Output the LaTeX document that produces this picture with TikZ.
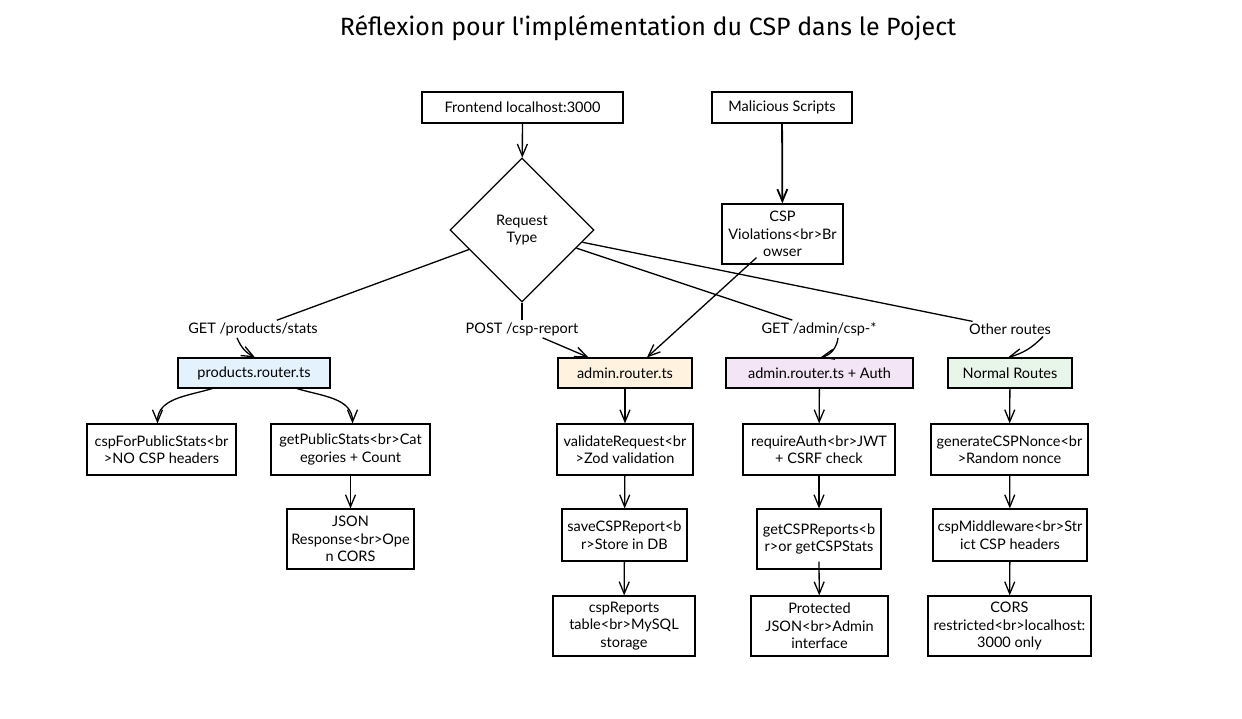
\documentclass[tikz,border=0pt]{standalone}
\usepackage{fontspec}
\setmainfont{Lato}
\newfontfamily\titlefont{Fira Sans}
\usetikzlibrary{arrows.meta}
\usetikzlibrary{shapes.geometric}
\definecolor{prodblue}{HTML}{E3F2FD}
\definecolor{admorange}{HTML}{FFF3E0}
\definecolor{authpurple}{HTML}{F3E5F5}
\definecolor{normgreen}{HTML}{E8F5E9}

\begin{document}
\begin{tikzpicture}[x=1pt, y=1pt,
  box/.style={draw, line width=1.2pt, inner sep=0, align=center, font=\fontsize{14.5}{17.5}\selectfont},
  lbl/.style={inner sep=2pt, font=\fontsize{14.5}{17.5}\selectfont},
  link/.style={line width=1.3pt},
  >={Straight Barb[length=12pt,width=10pt]}]
\useasboundingbox (0,0) rectangle (1242,-718);
\fill[white] (0,0) rectangle (1242,-718);
\node (title) at (648,-28) {\titlefont\fontsize{25}{30}\selectfont R\'eflexion pour l\textquotesingle impl\'ementation du CSP dans le Poject};

% top row
\node[box, minimum width=201pt, minimum height=31pt] (front) at (522.5,-107.5) {Frontend localhost:3000};
\node[box, minimum width=140pt, minimum height=31pt] (mal) at (782,-107.5) {Malicious Scripts};
\node[box, diamond, minimum width=144pt, minimum height=144pt] (req) at (522,-230) {Request\\Type};
\node[box, minimum width=121pt, minimum height=60pt] (csp) at (782.5,-234) {CSP\\Violations<br>Br\\owser};

% route labels
\node[lbl] (lprod) at (253,-329) {GET /products/stats};
\node[lbl] (lpost) at (522,-329) {POST /csp-report};
\node[lbl] (lauth) at (819,-329) {GET /admin/csp-*};
\node[lbl] (loth) at (1010,-329) {Other routes};

% routers
\node[box, fill=prodblue, minimum width=152pt, minimum height=30pt] (prod) at (254,-373) {products.router.ts};
\node[box, fill=admorange, minimum width=134pt, minimum height=30pt] (adm) at (625,-373) {admin.router.ts};
\node[box, fill=authpurple, minimum width=187pt, minimum height=30pt] (auth) at (819.5,-373) {admin.router.ts + Auth};
\node[box, fill=normgreen, minimum width=124pt, minimum height=30pt] (norm) at (1010,-373) {Normal Routes};

% handlers
\node[box, minimum width=149pt, minimum height=51pt] (nocsp) at (161.5,-449.5) {cspForPublicStats<br\\>NO CSP headers};
\node[box, minimum width=159pt, minimum height=51pt] (getpub) at (350.5,-449.5) {getPublicStats<br>Cat\\egories + Count};
\node[box, minimum width=136pt, minimum height=51pt] (valid) at (625,-449.5) {validateRequest<br\\>Zod validation};
\node[box, minimum width=152pt, minimum height=51pt] (reqauth) at (819,-449.5) {requireAuth<br>JWT\\+ CSRF check};
\node[box, minimum width=157pt, minimum height=51pt] (nonce) at (1009.5,-449.5) {generateCSPNonce<br\\>Random nonce};

\node[box, minimum width=127pt, minimum height=60pt] (json) at (350.5,-539) {JSON\\Response<br>Ope\\n CORS};
\node[box, minimum width=125pt, minimum height=52pt] (save) at (624.5,-535) {saveCSPReport<b\\r>Store in DB};
\node[box, minimum width=124pt, minimum height=60pt] (getcsp) at (819,-539) {getCSPReports<b\\r>or getCSPStats};
\node[box, minimum width=154pt, minimum height=52pt] (mid) at (1010,-535) {cspMiddleware<br>Str\\ict CSP headers};

\node[box, minimum width=142pt, minimum height=60pt] (table) at (624,-626) {cspReports\\table<br>MySQL\\storage};
\node[box, minimum width=137pt, minimum height=60pt] (prot) at (819.5,-626) {Protected\\JSON<br>Admin\\interface};
\node[box, minimum width=163pt, minimum height=60pt] (cors) at (1009.5,-626) {CORS\\restricted<br>localhost:\\3000 only};

% connectors
\draw[link,->] (front) -- (req);
\draw[link,->, line width=1.8pt] (mal) -- (csp);
\draw[link] (req) -- (lprod);
\draw[link] (req) -- (lpost);
\draw[link] (req) -- (lauth);
\draw[link] (req) -- (loth);
\draw[link,->] ([xshift=-16pt]lprod.south) to[bend right=20] ([xshift=1pt]prod.north);
\draw[link,->] (lpost) -- (adm);
\draw[link,->] ([xshift=-26pt,yshift=7pt]csp.south) -- ([xshift=22pt]adm.north);
\draw[link,->] ([xshift=19pt]lauth.south) to[bend left=35] ([xshift=1pt]auth.north);
\draw[link,->] ([xshift=33pt]loth.south) to[bend left=15] ([xshift=-2pt]norm.north);
\draw[link,->] ([xshift=-42pt]prod.south) to[out=197,in=90] ([xshift=-4pt]nocsp.north);
\draw[link,->] ([xshift=43pt]prod.south) to[out=-17,in=90] ([xshift=2pt]getpub.north);
\foreach \a/\b in {getpub/json, adm/valid, valid/save, save/table, auth/reqauth, norm/nonce, nonce/mid, mid/cors}
  \draw[link,->] (\a) -- (\b);
\draw[link,->] (reqauth) -- (getcsp);
\draw[link,->] ([yshift=8pt]getcsp.south) -- (prot);
\end{tikzpicture}
\end{document}
